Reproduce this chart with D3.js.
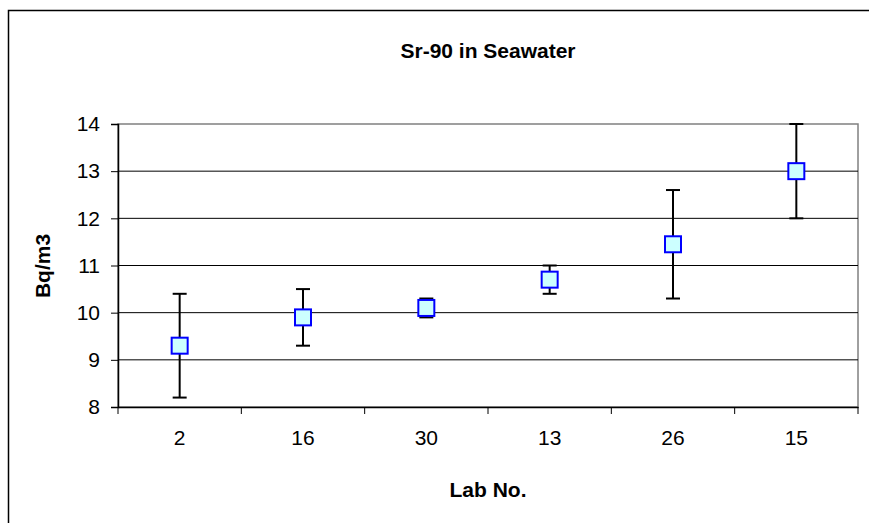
<!DOCTYPE html>
<html><head><meta charset="utf-8">
<script src="https://cdn.jsdelivr.net/npm/d3@7"></script>
<style>body{margin:0;background:#fff}svg{display:block}text{font-family:Arial,"Liberation Sans",sans-serif}</style>
</head><body>
<script>
const labs = ["2","16","30","13","26","15"];
const values = [9.3, 9.9, 10.1, 10.7, 11.45, 13.0];
const errLow = [8.2, 9.3, 9.9, 10.4, 10.3, 12.0];
const errHigh = [10.4, 10.5, 10.3, 11.0, 12.6, 14.0];
const yTicks = [8, 9, 10, 11, 12, 13, 14];

const W = 869, H = 523;
const m = {left:118, right:858, top:124, bottom:407};
const FONT = "Arial, 'Liberation Sans', sans-serif";
const svg = d3.select("body").append("svg").attr("width", W).attr("height", H);

svg.append("rect").attr("x",8.5).attr("y",10.5).attr("width",W).attr("height",H)
  .attr("fill","#fff").attr("stroke","#000").attr("stroke-width",1.5);

const x = d3.scaleBand().domain(labs).range([m.left, m.right]);
const y = d3.scaleLinear().domain([8,14]).range([m.bottom, m.top]);

// plot border
svg.append("rect").attr("x",m.left).attr("y",m.top).attr("width",m.right-m.left).attr("height",m.bottom-m.top)
  .attr("fill","none").attr("stroke","#808080").attr("stroke-width",1.5);

// gridlines
svg.append("g").selectAll("line").data(yTicks.filter(t=>t>8 && t<14)).join("line")
  .attr("x1",m.left).attr("x2",m.right).attr("y1",d=>y(d)).attr("y2",d=>y(d))
  .attr("stroke","#000").attr("stroke-width",1);

// y axis
const ya = svg.append("g").attr("transform",`translate(${m.left},0)`)
  .call(d3.axisLeft(y).tickValues(yTicks).tickFormat(d3.format("d")).tickSize(7).tickPadding(11));
ya.select(".domain").attr("stroke","#000").attr("stroke-width",1.5);
ya.selectAll(".tick line").attr("stroke","#000");
ya.selectAll("text").attr("font-size",21).attr("fill","#000").attr("font-family",FONT);

// x axis
const xa = svg.append("g").attr("transform",`translate(0,${m.bottom})`)
  .call(d3.axisBottom(x).tickSize(0).tickPadding(23));
xa.select(".domain").attr("stroke","#000").attr("stroke-width",1.5);
xa.selectAll("text").attr("font-size",21).attr("fill","#000").attr("font-family",FONT);
const bounds = labs.map(l=>x(l)).concat([m.right]);
svg.append("g").selectAll("line").data(bounds).join("line")
  .attr("x1",d=>d).attr("x2",d=>d).attr("y1",m.bottom).attr("y2",m.bottom+7)
  .attr("stroke","#000").attr("stroke-width",1);

// error bars
const cx = l => x(l) + x.bandwidth()/2;
const eb = svg.append("g").attr("stroke","#000").attr("stroke-width",2);
labs.forEach((l,i)=>{
  eb.append("line").attr("x1",cx(l)).attr("x2",cx(l)).attr("y1",y(errLow[i])).attr("y2",y(errHigh[i]));
  [errLow[i], errHigh[i]].forEach(v=>{
    eb.append("line").attr("x1",cx(l)-7).attr("x2",cx(l)+7).attr("y1",y(v)).attr("y2",y(v));
  });
});

// markers
svg.append("g").selectAll("rect").data(labs).join("rect")
  .attr("x",d=>cx(d)-8).attr("y",(d,i)=>y(values[i])-8).attr("width",16).attr("height",16)
  .attr("fill","#CCFFFF").attr("stroke","#0000FF").attr("stroke-width",2);

// titles
svg.append("text").attr("x",488).attr("y",58).attr("text-anchor","middle")
  .attr("font-size",21).attr("font-weight","bold").text("Sr-90 in Seawater");
svg.append("text").attr("x",488).attr("y",497).attr("text-anchor","middle")
  .attr("font-size",21).attr("font-weight","bold").text("Lab No.");
svg.append("text").attr("transform","translate(50,266) rotate(-90)").attr("text-anchor","middle")
  .attr("font-size",21).attr("font-weight","bold").text("Bq/m3");
</script>
</body></html>
